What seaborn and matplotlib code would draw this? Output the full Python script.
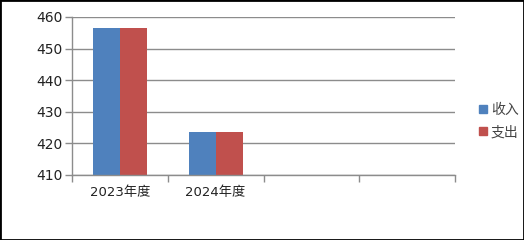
import matplotlib
matplotlib.use("Agg")
import matplotlib.pyplot as plt
from matplotlib.patches import Rectangle
from matplotlib.lines import Line2D
import seaborn as sns
import pandas as pd

categories = ["2023年度", "2024年度"]
income = [456.6, 423.7]
expense = [456.6, 423.7]
series_names = ["收入", "支出"]
colors = ["#4F81BD", "#C0504D"]
y_ticks = [410, 420, 430, 440, 450, 460]

df = pd.DataFrame({
    "cat": categories * 2,
    "val": income + expense,
    "series": [series_names[0]] * len(categories) + [series_names[1]] * len(categories),
})

sns.set_style("white")
plt.rcParams['font.family'] = ['DejaVu Sans', 'Noto Sans CJK SC']

fig = plt.figure(figsize=(5.24, 2.40), dpi=100)
ax = fig.add_axes([72/524, 1 - 175/240, (455-72)/524, (175-17)/240])

sns.barplot(data=df, x="cat", y="val", hue="series", order=categories,
            palette=colors, width=0.5625, ax=ax, legend=False, saturation=1,
            edgecolor="none", linewidth=0)

ax.set_xlim(-0.5, 3.5)
ax.set_ylim(410, 460)
ax.set_yticks(y_ticks)
ax.yaxis.grid(True, color="#8c8c8c", linewidth=1)
ax.set_axisbelow(True)
ax.set_xlabel("")
ax.set_ylabel("")

ax.set_xticks([-0.5, 0.5, 1.5, 2.5, 3.5])
ax.set_xticklabels([])
ax.set_xticks([0, 1], minor=True)
ax.set_xticklabels(categories, minor=True, fontsize=9.5, color="#222222")
ax.tick_params(axis="x", which="major", length=5, width=1, color="#8c8c8c", direction="out", bottom=True)
ax.tick_params(axis="x", which="minor", length=0, pad=8)
ax.tick_params(axis="y", length=5, width=1, color="#8c8c8c", direction="out", left=True, labelsize=10, pad=2, labelcolor="#222222")

for side in ["top", "right"]:
    ax.spines[side].set_visible(False)
for side in ["left", "bottom"]:
    ax.spines[side].set_color("#8c8c8c")
    ax.spines[side].set_linewidth(1)

handles = [Line2D([], [], marker="s", linestyle="none", markersize=6,
                  markerfacecolor=c, markeredgecolor=c) for c in colors]
fig.legend(handles, series_names, loc="center left", bbox_to_anchor=(470/524, 1 - 121/240),
           frameon=False, fontsize=10, handletextpad=0.1, labelspacing=0.6,
           handlelength=1.0, borderaxespad=0, labelcolor="#444444")

fig.patches.append(Rectangle((0, 0), 1, 1, transform=fig.transFigure, fill=False,
                             edgecolor="black", linewidth=2, zorder=10))

fig.savefig("out.png", dpi=100)
